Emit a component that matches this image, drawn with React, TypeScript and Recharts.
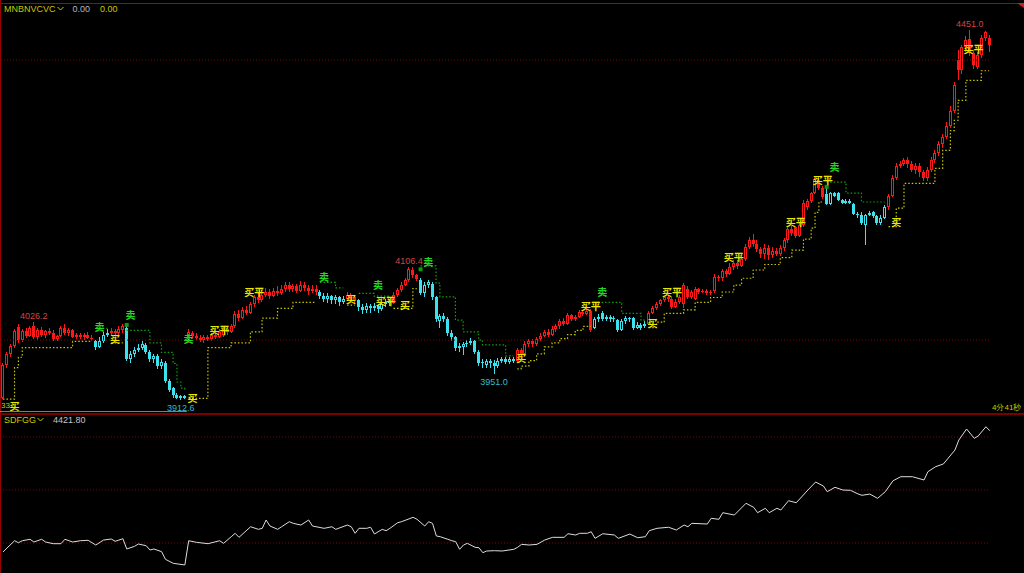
import React from 'react'
import { ComposedChart, Bar, Line, XAxis, YAxis, ReferenceLine } from 'recharts'

type Ohlc = [number, number, number, number] // open, high, low, close

// 5 minute bars, one array per trading day
const day1: Ohlc[] = [
  [3916, 3966, 3914, 3963], [3963, 3983, 3960, 3979], [3979, 3994, 3975, 3991], [3991, 4016, 3988, 4013],
  [4019, 4024, 3996, 4000], [4000, 4016, 3997, 4013], [4013, 4018, 4003, 4006], [4006, 4021, 4004, 4017],
  [4021, 4026.2, 4001, 4004], [4004, 4017, 4000, 4014], [4014, 4019, 4005, 4007], [4007, 4015, 4003, 4013],
  [4013, 4018, 4007, 4010], [4010, 4014, 3999, 4002], [4002, 4008, 3998, 4006], [4006, 4021, 4004, 4018],
  [4018, 4024, 4008, 4010], [4010, 4017, 4006, 4014], [4014, 4016, 4003, 4005], [4005, 4010, 4001, 4007],
  [4007, 4011, 4002, 4004], [4004, 4010, 4000, 4008], [4008, 4012, 4002, 4003], [4003, 4008, 3998, 4001],
  [3998, 4000, 3986, 3990], [3990, 4004, 3988, 3999], [3999, 4012, 3996, 4008], [4008, 4016, 4004, 4011],
  [4011, 4018, 4008, 4013], [4013, 4016, 4006, 4010], [4010, 4020, 4008, 4016], [4014, 4024, 4010, 4020],
  [4018, 4022, 3970, 3972], [3972, 3984, 3966, 3979], [3979, 3990, 3976, 3986], [3986, 3994, 3983, 3989],
  [3989, 3998, 3986, 3994], [3993, 3996, 3980, 3982], [3982, 3985, 3968, 3972], [3972, 3980, 3966, 3977],
  [3977, 3980, 3958, 3962], [3962, 3973, 3958, 3968], [3966, 3969, 3938, 3941], [3941, 3944, 3924, 3928],
  [3930, 3932, 3916, 3920], [3920, 3923, 3913.6, 3916], [3916, 3920, 3912.6, 3918], [3918, 3920, 3914, 3915],
]

const day2: Ohlc[] = [
  [4000, 4016, 3996, 4012], [4010, 4013, 4002, 4006], [4006, 4010, 4000, 4003], [4003, 4007, 3997, 4000],
  [4000, 4008, 3996, 4004], [4004, 4007, 3998, 4001], [4001, 4011, 3999, 4008], [4008, 4012, 4001, 4005],
  [4005, 4016, 4003, 4012], [4008, 4019, 4004, 4016], [4016, 4020, 4008, 4012], [4012, 4024, 4010, 4020],
  [4020, 4042, 4018, 4038], [4038, 4044, 4028, 4032], [4032, 4048, 4030, 4044], [4044, 4050, 4036, 4040],
  [4040, 4056, 4038, 4052], [4052, 4066, 4048, 4062], [4062, 4068, 4054, 4058], [4058, 4072, 4055, 4066],
  [4066, 4076, 4062, 4070], [4070, 4074, 4060, 4064], [4064, 4076, 4062, 4072], [4072, 4078, 4064, 4068],
  [4068, 4080, 4066, 4074], [4074, 4084, 4070, 4080], [4080, 4085, 4070, 4074], [4074, 4082, 4070, 4078],
  [4078, 4082, 4068, 4072], [4072, 4086, 4070, 4080], [4080, 4084, 4072, 4076], [4076, 4080, 4066, 4072],
  [4072, 4080, 4068, 4075], [4075, 4080, 4066, 4070], [4070, 4073, 4060, 4064], [4064, 4068, 4056, 4060],
  [4060, 4068, 4054, 4064], [4064, 4066, 4052, 4058], [4058, 4065, 4052, 4062], [4062, 4064, 4050, 4056],
  [4056, 4064, 4052, 4060], [4060, 4070, 4058, 4066], [4066, 4068, 4058, 4062], [4062, 4064, 4052, 4058],
  [4058, 4060, 4042, 4048], [4048, 4052, 4038, 4044], [4044, 4054, 4040, 4050], [4050, 4052, 4040, 4046],
]

const day3: Ohlc[] = [
  [4046, 4054, 4042, 4050], [4050, 4053, 4040, 4045], [4045, 4056, 4042, 4052], [4052, 4060, 4048, 4056],
  [4056, 4060, 4050, 4054], [4054, 4070, 4052, 4066], [4066, 4076, 4062, 4073], [4073, 4084, 4070, 4080],
  [4080, 4090, 4078, 4087], [4087, 4106.4, 4085, 4104], [4102, 4106, 4090, 4094], [4094, 4096, 4086, 4089],
  [4088, 4090, 4066, 4068], [4068, 4084, 4062, 4080], [4080, 4088, 4076, 4084], [4082, 4085, 4058, 4062],
  [4062, 4064, 4026, 4030], [4028, 4038, 4018, 4035], [4035, 4040, 4026, 4030], [4030, 4033, 4006, 4010],
  [4010, 4014, 3999, 4004], [4004, 4006, 3984, 3988], [3988, 3996, 3982, 3992], [3990, 3997, 3978, 3994],
  [3994, 4000, 3990, 3996], [3996, 4003, 3993, 3999], [3998, 4000, 3980, 3983], [3983, 3985, 3962, 3966],
  [3966, 3972, 3960, 3968], [3964, 3973, 3959, 3970], [3970, 3973, 3960, 3966], [3966, 3971, 3951, 3962],
  [3962, 3974, 3960, 3970], [3970, 3976, 3966, 3972], [3972, 3975, 3965, 3968], [3968, 3975, 3965, 3972],
  [3972, 3975, 3966, 3970], [3970, 3988, 3968, 3985], [3985, 3988, 3976, 3980], [3980, 3998, 3978, 3994],
  [3994, 4002, 3990, 3998], [3998, 4001, 3990, 3994], [3994, 4005, 3992, 4002], [4002, 4010, 3999, 4006],
  [4006, 4014, 4004, 4012], [4012, 4016, 4004, 4008], [4008, 4020, 4006, 4016], [4016, 4024, 4012, 4020],
]

const day4: Ohlc[] = [
  [4020, 4031, 4016, 4028], [4028, 4032, 4020, 4024], [4024, 4040, 4022, 4036], [4036, 4038, 4028, 4031],
  [4031, 4037, 4028, 4034], [4034, 4044, 4032, 4041], [4041, 4043, 4035, 4038], [4038, 4046, 4036, 4042],
  [4043, 4045, 4012, 4015], [4018, 4034, 4016, 4030], [4030, 4038, 4026, 4034], [4040, 4042, 4028, 4031],
  [4031, 4037, 4028, 4034], [4034, 4036, 4026, 4030], [4030, 4035, 4027, 4032], [4029, 4031, 4012, 4015],
  [4015, 4030, 4013, 4028], [4028, 4035, 4024, 4032], [4032, 4034, 4027, 4030], [4032, 4034, 4015, 4018],
  [4018, 4026, 4016, 4022], [4022, 4025, 4015, 4018], [4020, 4028, 4018, 4024], [4024, 4043, 4022, 4040],
  [4040, 4050, 4038, 4046], [4046, 4056, 4044, 4053], [4053, 4060, 4050, 4058], [4058, 4064, 4056, 4062],
  [4062, 4066, 4056, 4060], [4060, 4062, 4045, 4048], [4048, 4060, 4046, 4055], [4055, 4066, 4053, 4062],
  [4052, 4083, 4047, 4080], [4075, 4078, 4060, 4062], [4062, 4073, 4060, 4070], [4060, 4077, 4058, 4075],
  [4075, 4076, 4067, 4070], [4070, 4074, 4068, 4072], [4072, 4074, 4066, 4069], [4068, 4073, 4065, 4070],
  [4071, 4096, 4069, 4092], [4092, 4094, 4086, 4090], [4090, 4104, 4086, 4100], [4100, 4104, 4092, 4096],
  [4096, 4112, 4094, 4106], [4106, 4116, 4102, 4112], [4112, 4116, 4104, 4108], [4108, 4122, 4106, 4118],
]

const day5: Ohlc[] = [
  [4118, 4140, 4115, 4135], [4135, 4150, 4132, 4146], [4146, 4154, 4136, 4140], [4140, 4146, 4128, 4132],
  [4132, 4136, 4120, 4126], [4126, 4140, 4118, 4134], [4134, 4138, 4116, 4124], [4124, 4136, 4120, 4130],
  [4130, 4134, 4122, 4126], [4126, 4138, 4122, 4134], [4134, 4148, 4130, 4145], [4145, 4166, 4142, 4162],
  [4162, 4166, 4152, 4156], [4164, 4166, 4148, 4152], [4152, 4170, 4150, 4167], [4167, 4204, 4164, 4200],
  [4193, 4206, 4190, 4203], [4203, 4216, 4200, 4214], [4214, 4237, 4212, 4234], [4233, 4238, 4219, 4222],
  [4222, 4224, 4206, 4208], [4212, 4222, 4196, 4198], [4198, 4216, 4196, 4214], [4214, 4216, 4208, 4210],
  [4214, 4216, 4202, 4204], [4204, 4206, 4198, 4200], [4200, 4205, 4198, 4202], [4202, 4205, 4198, 4200],
  [4198, 4200, 4182, 4184], [4184, 4186, 4178, 4182], [4182, 4186, 4168, 4170], [4168, 4184, 4138, 4182],
  [4182, 4188, 4180, 4185], [4186, 4188, 4177, 4180], [4180, 4182, 4167, 4170], [4170, 4182, 4168, 4178],
  [4178, 4196, 4176, 4193], [4193, 4213, 4190, 4210], [4210, 4240, 4208, 4236], [4236, 4258, 4233, 4254],
  [4254, 4260, 4250, 4257], [4257, 4265, 4254, 4262], [4262, 4266, 4250, 4256], [4256, 4260, 4244, 4248],
  [4248, 4258, 4242, 4254], [4254, 4258, 4238, 4244], [4244, 4248, 4232, 4236], [4236, 4252, 4232, 4248],
]

const day6: Ohlc[] = [
  [4248, 4266, 4244, 4262], [4262, 4276, 4258, 4272], [4272, 4290, 4268, 4285], [4285, 4300, 4280, 4296],
  [4296, 4318, 4292, 4312], [4312, 4340, 4308, 4334], [4334, 4376, 4330, 4372], [4408, 4422, 4378, 4393],
  [4393, 4430, 4388, 4426], [4426, 4442, 4420, 4437], [4438, 4451, 4414, 4418], [4418, 4422, 4394, 4400],
  [4398, 4420, 4394, 4415], [4415, 4444, 4410, 4440], [4440, 4450.6, 4436, 4449], [4440, 4444, 4420, 4430],
]

// bar index where the trend state flips: 1 = long (red), -1 = short (cyan)
const trendFlips: [number, number][] = [
  [0, 1], [24, -1], [28, 1], [32, -1], [48, 1], [82, -1], [89, 1], [92, -1],
  [101, 1], [108, -1], [133, 1], [153, -1], [167, 1], [213, -1], [229, 1],
]

// trailing stop level, changes only at these bars
const stopSteps: [number, number][] = [
  [0, 3914], [3, 3960], [4, 3975], [5, 3989], [18, 3998],
  [24, 4017],
  [28, 3996],
  [32, 4014], [38, 3996], [41, 3982], [44, 3966], [45, 3939], [46, 3930], [47, 3925],
  [48, 3915], [53, 3989], [59, 3996], [64, 4012], [67, 4032], [71, 4046], [75, 4055],
  [82, 4084], [86, 4076],
  [89, 4051],
  [92, 4068], [96, 4064],
  [101, 4046], [106, 4075],
  [108, 4108], [112, 4083], [113, 4063], [117, 4029], [119, 4012], [123, 4000], [124, 3993], [130, 3977],
  [133, 3958], [134, 3962], [136, 3970], [138, 3980], [140, 3990], [142, 3996], [144, 4002], [146, 4008], [148, 4014], [150, 4020],
  [153, 4055], [160, 4039], [165, 4029],
  [167, 4018], [169, 4026], [171, 4039], [176, 4044], [179, 4055], [183, 4062], [186, 4070], [189, 4080], [191, 4090],
  [194, 4102], [197, 4110], [201, 4120], [204, 4131], [207, 4147], [209, 4163], [210, 4186], [211, 4201],
  [213, 4230], [218, 4214], [222, 4201],
  [229, 4165], [231, 4192], [233, 4228], [241, 4250], [243, 4276], [245, 4305], [246, 4320], [247, 4349], [249, 4378], [253, 4392],
]

const signals: [number, number, string][] = [
  [3, 3905, '买'], [25, 4020, '卖'], [29, 4003, '买'], [33, 4037, '卖'], [48, 4002, '卖'], [49, 3917, '买'],
  [56, 4016, '买平'], [65, 4070, '买平'], [83, 4092, '卖'], [90, 4061, '买'], [97, 4081, '卖'], [99, 4058, '买平'],
  [104, 4052, '买'], [110, 4115, '卖'], [134, 3975, '买'], [152, 4051, '买平'], [155, 4071, '卖'], [168, 4025, '买'],
  [173, 4070, '买平'], [189, 4121, '买平'], [205, 4173, '买平'], [212, 4233, '买平'], [215, 4252, '卖'],
  [231, 4172, '买'], [251, 4425, '买平'],
]

const sellDots: [number, number][] = [[32, 4022], [108, 4103], [213, 4223]]

// extreme price labels: bar, price, above(1)/below(-1)
const extremes: [number, number, number][] = [
  [8, 4026.2, 1], [105, 4106.4, 1], [250, 4451.0, 1], [46, 3912.6, -1], [127, 3951.0, -1],
]

const priceGuides = [4000, 4407.6]

// lower pane: SDFGG index, sampled at bar index
const subLine: [number, number][] = [
  [0, 4193.0], [3, 4214.3], [4, 4210.5], [5, 4214.3], [7, 4217.0], [8, 4211.9], [10, 4217.0], [11, 4211.9],
  [13, 4208.7], [15, 4208.7], [16, 4217.0], [18, 4211.9], [20, 4214.3], [22, 4215.1], [24, 4206.2], [26, 4215.6],
  [28, 4217.5], [29, 4213.2], [31, 4218.1], [32, 4198.7], [34, 4203.7], [35, 4208.1], [37, 4204.9], [38, 4196.8],
  [39, 4198.7], [41, 4193.6], [42, 4179.2], [44, 4171.7], [47, 4168.5], [48, 4214.3], [50, 4211.3], [53, 4208.7],
  [56, 4214.3], [57, 4209.4], [59, 4221.9], [60, 4228.3], [61, 4220.7], [64, 4240.7], [66, 4235.8], [67, 4237.7],
  [68, 4253.4], [69, 4242.0], [71, 4235.8], [72, 4240.7], [74, 4250.2], [75, 4247.1], [77, 4243.9], [79, 4253.4],
  [80, 4242.0], [83, 4237.7], [85, 4240.7], [86, 4235.8], [89, 4243.9], [90, 4240.7], [91, 4228.3], [92, 4237.7],
  [94, 4237.7], [95, 4239.7], [96, 4227.0], [98, 4235.8], [99, 4233.2], [100, 4237.7], [102, 4248.3], [103, 4250.2],
  [106, 4258.5], [107, 4254.7], [109, 4242.0], [110, 4250.2], [111, 4247.1], [112, 4223.2], [113, 4221.9], [115, 4216.9],
  [116, 4214.3], [117, 4212.4], [118, 4198.1], [119, 4206.2], [120, 4209.4], [122, 4201.9], [123, 4201.1], [124, 4191.7],
  [125, 4194.9], [127, 4195.5], [129, 4194.9], [132, 4198.1], [133, 4201.9], [134, 4207.5], [136, 4206.2], [138, 4207.5],
  [140, 4215.6], [142, 4220.7], [145, 4220.7], [146, 4227.5], [148, 4225.1], [149, 4228.3], [151, 4228.3], [152, 4231.3],
  [153, 4218.8], [155, 4227.5], [158, 4225.1], [159, 4218.8], [162, 4226.9], [164, 4220.0], [166, 4221.9], [167, 4233.2],
  [169, 4237.7], [172, 4239.7], [174, 4234.5], [176, 4243.9], [177, 4240.7], [178, 4247.1], [182, 4245.8], [183, 4256.6],
  [185, 4254.7], [186, 4267.2], [189, 4262.8], [192, 4284.9], [194, 4277.3], [195, 4267.2], [197, 4275.5], [198, 4267.2],
  [200, 4275.5], [201, 4272.2], [203, 4289.8], [205, 4286.0], [208, 4310.0], [210, 4325.1], [212, 4317.5], [213, 4306.8],
  [215, 4315.1], [217, 4310.0], [219, 4309.4], [221, 4302.4], [222, 4300.0], [224, 4302.4], [226, 4294.3], [228, 4306.8],
  [230, 4327.5], [232, 4335.1], [235, 4335.1], [238, 4328.9], [239, 4344.5], [241, 4354.0], [243, 4359.1], [246, 4385.5],
  [247, 4404.3], [249, 4425.1], [251, 4407.5], [252, 4411.9], [254, 4429.4], [255, 4421.8],
]
const subGuides = [4210, 4310, 4410]

const RED = '#ff1818'
const CYAN = '#3ce2ee'
const YEL = '#e8e800'
const GRN = '#22d822'
const STOP_L = '#c8c800'
const STOP_S = '#10a010'
const GUIDE = '#7a0808'
const LABEL = '#c8c800'

const bars = [...day1, ...day2, ...day3, ...day4, ...day5, ...day6]

const lastAt = (steps: [number, number][], i: number) => {
  let v = steps[0][1]
  for (const [b, s] of steps) if (b <= i) v = s
  return v
}

const rows = bars.map(([o, h, l, c], i) => {
  const up = lastAt(trendFlips, i) > 0
  const stop = lastAt(stopSteps, i)
  const sig = signals.find(s => s[0] === i)
  const dot = sellDots.find(s => s[0] === i)
  const ext = extremes.find(s => s[0] === i)
  return {
    i, o, h, l, c, up,
    longStop: up ? stop : null,
    shortStop: up ? null : stop,
    sigY: sig ? sig[1] : null,
    sigT: sig ? sig[2] : '',
    dotY: dot ? dot[1] : null,
    extY: ext ? ext[1] : null,
    extSide: ext ? ext[2] : 0,
  }
})

const subRows = subLine.map(([t, v]) => ({ t, v }))

function Candle(props: any) {
  const { x, y, width, height, payload } = props
  if (x == null || payload == null) return <g />
  const top = height >= 0 ? y : y + height
  const span = Math.abs(height)
  const { o, h, l, c, up } = payload
  const k = h > l ? span / (h - l) : 0
  const yO = top + (h - o) * k
  const yC = top + (h - c) * k
  const color = up ? RED : CYAN
  const left = Math.round(x + width / 2 - 1.5)
  const mid = left + 1.5
  const bTop = Math.round(Math.min(yO, yC))
  const bBot = Math.max(bTop + 1, Math.round(Math.max(yO, yC)))
  const hi = Math.round(top)
  const lo = Math.round(top + span)
  const hollow = c >= o && bBot - bTop > 2
  return (
    <g>
      {hi < bTop && <line x1={mid} x2={mid} y1={hi} y2={bTop} stroke={color} strokeWidth={1} />}
      {lo > bBot && <line x1={mid} x2={mid} y1={bBot} y2={lo} stroke={color} strokeWidth={1} />}
      {hollow ? (
        <rect x={left + 0.5} y={bTop + 0.5} width={2} height={bBot - bTop - 1} fill="#000" stroke={color} strokeWidth={1} />
      ) : (
        <rect x={left} y={bTop} width={3} height={bBot - bTop} fill={color} />
      )}
    </g>
  )
}

const renderSignal = (p: any) => {
  const { cx, cy, payload, index } = p
  if (cy == null || !payload?.sigT) return <g key={`s${index}`} />
  return (
    <text key={`s${index}`} x={cx} y={cy} textAnchor="middle" dominantBaseline="central"
      fontSize={10} fontFamily='"Noto Sans CJK SC", sans-serif' fontWeight={700}
      fill={payload.sigT === '卖' ? GRN : YEL}>
      {payload.sigT}
    </text>
  )
}

const renderDot = (p: any) => {
  const { cx, cy, index } = p
  if (cy == null) return <g key={`d${index}`} />
  return <rect key={`d${index}`} x={cx - 2} y={cy - 2} width={4} height={4} fill="#109a10" />
}

const renderExtreme = (p: any) => {
  const { cx, cy, payload, index } = p
  if (cy == null || !payload?.extSide) return <g key={`e${index}`} />
  const above = payload.extSide > 0
  return (
    <text key={`e${index}`} x={cx} y={above ? cy - 3 : cy + 11} textAnchor="middle"
      fontSize={9} fontFamily='"Liberation Sans", Arial, sans-serif'
      fill={above ? '#d04444' : '#34bccc'}>
      {payload.extY.toFixed(1)}
    </text>
  )
}

const Chevron = ({ color }: { color: string }) => (
  <svg width={7} height={6} style={{ margin: '0 3px 0 1px' }}>
    <polyline points="0.5,1 3.5,4 6.5,1" fill="none" stroke={color} strokeWidth={1} />
  </svg>
)

const textBase: React.CSSProperties = {
  position: 'absolute',
  fontSize: 9,
  fontFamily: '"Liberation Sans", Arial, sans-serif',
  lineHeight: '10px',
  whiteSpace: 'nowrap',
  display: 'flex',
  alignItems: 'center',
}

export default function App() {
  return (
    <div style={{ position: 'fixed', left: 0, top: 0, width: 1024, height: 573, background: '#000', overflow: 'hidden' }}>
      <div style={{ position: 'absolute', left: 0, top: 0 }}>
        <ComposedChart width={1024} height={412} data={rows} margin={{ top: 0, right: 33, bottom: 0, left: 1 }}>
          <XAxis dataKey="i" type="category" hide />
          <YAxis hide domain={[3895.3, 4495]} allowDataOverflow />
          {priceGuides.map(v => (
            <ReferenceLine key={v} y={v} stroke={GUIDE} strokeDasharray="1 2" />
          ))}
          <Line dataKey="longStop" type="stepAfter" stroke={STOP_L} strokeWidth={1.2} strokeDasharray="1.5 2"
            dot={false} activeDot={false} isAnimationActive={false} />
          <Line dataKey="shortStop" type="stepAfter" stroke={STOP_S} strokeWidth={1.2} strokeDasharray="1.5 2"
            dot={false} activeDot={false} isAnimationActive={false} />
          <Bar dataKey={(d: any) => [d.l, d.h]} shape={(p: any) => <Candle {...p} />} isAnimationActive={false} />
          <Line dataKey="dotY" stroke="none" dot={renderDot} activeDot={false} isAnimationActive={false} />
          <Line dataKey="sigY" stroke="none" dot={renderSignal} activeDot={false} isAnimationActive={false} />
          <Line dataKey="extY" stroke="none" dot={renderExtreme} activeDot={false} isAnimationActive={false} />
        </ComposedChart>
      </div>

      <div style={{ position: 'absolute', left: 0, top: 412 }}>
        <ComposedChart width={1024} height={161} data={subRows} margin={{ top: 0, right: 34.2, bottom: 0, left: 2.94 }}>
          <XAxis dataKey="t" type="number" domain={[0, 255]} hide />
          <YAxis hide domain={[4153.4, 4457.2]} allowDataOverflow />
          {subGuides.map(v => (
            <ReferenceLine key={v} y={v} stroke={GUIDE} strokeDasharray="1 2" />
          ))}
          <Line dataKey="v" type="linear" stroke="#dcdcdc" strokeWidth={1} dot={false} activeDot={false} isAnimationActive={false} />
        </ComposedChart>
      </div>

      {/* frame */}
      <div style={{ position: 'absolute', left: 0, top: 3, width: 1024, height: 1, background: '#8a1010' }} />
      <div style={{ position: 'absolute', left: 0, top: 0, width: 1, height: 573, background: '#990000' }} />
      <div style={{ position: 'absolute', left: 0, top: 411, width: 187, height: 1, background: '#7c7c7c' }} />
      <div style={{ position: 'absolute', left: 0, top: 413, width: 1024, height: 2, background: '#7a0000' }} />
      <svg style={{ position: 'absolute', left: 1017, top: 3 }} width={7} height={6}>
        <polygon points="0,0 7,0 7,5" fill="#cc2020" />
      </svg>

      <div style={{ ...textBase, left: 4, top: 4 }}>
        <span style={{ color: LABEL }}>MNBNVCVC</span>
        <Chevron color={LABEL} />
        <span style={{ color: '#b4b8c8', marginLeft: 6 }}>0.00</span>
        <span style={{ color: LABEL, marginLeft: 10 }}>0.00</span>
      </div>
      <div style={{ ...textBase, left: 1, top: 401, fontSize: 8, color: LABEL }}>33</div>
      <div style={{ ...textBase, left: 992, top: 403, fontSize: 8, color: LABEL }}>4分41秒</div>
      <div style={{ ...textBase, left: 4, top: 415 }}>
        <span style={{ color: LABEL }}>SDFGG</span>
        <Chevron color={LABEL} />
        <span style={{ color: '#c4c4c4', marginLeft: 6 }}>4421.80</span>
      </div>
    </div>
  )
}
